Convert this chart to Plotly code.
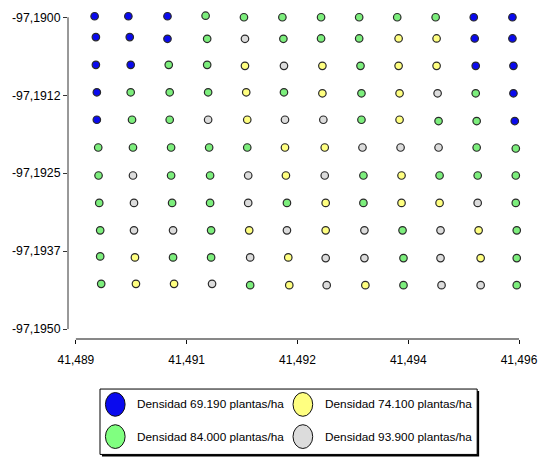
import plotly.graph_objects as go

# ---------------- data ----------------
density_names = {
    "B": "Densidad 69.190 plantas/ha",
    "Y": "Densidad 74.100 plantas/ha",
    "G": "Densidad 84.000 plantas/ha",
    "W": "Densidad 93.900 plantas/ha",
}
density_colors = {"B": "#0a0aee", "Y": "#ffff80", "G": "#7cee7c", "W": "#dcdcdc"}

x_grid = [
    [41.489296, 41.489829, 41.490447, 41.491049, 41.491655, 41.492262, 41.492873, 41.493475, 41.494076, 41.494683, 41.495285, 41.495896],
    [41.489316, 41.489851, 41.490447, 41.491074, 41.491671, 41.492278, 41.492873, 41.493475, 41.494098, 41.494698, 41.495300, 41.495896],
    [41.489316, 41.489866, 41.490467, 41.491074, 41.491671, 41.492287, 41.492894, 41.493496, 41.494098, 41.494698, 41.495316, 41.495912],
    [41.489331, 41.489866, 41.490482, 41.491089, 41.491691, 41.492287, 41.492894, 41.493511, 41.494113, 41.494714, 41.495316, 41.495912],
    [41.489331, 41.489887, 41.490482, 41.491089, 41.491707, 41.492303, 41.492909, 41.493511, 41.494113, 41.494729, 41.495331, 41.495933],
    [41.489353, 41.489902, 41.490504, 41.491105, 41.491707, 41.492303, 41.492931, 41.493527, 41.494129, 41.494729, 41.495331, 41.495949],
    [41.489358, 41.489902, 41.490504, 41.491120, 41.491722, 41.492318, 41.492931, 41.493542, 41.494144, 41.494745, 41.495347, 41.495949],
    [41.489369, 41.489918, 41.490520, 41.491120, 41.491722, 41.492334, 41.492946, 41.493542, 41.494144, 41.494745, 41.495347, 41.495949],
    [41.489384, 41.489918, 41.490535, 41.491136, 41.491738, 41.492334, 41.492946, 41.493558, 41.494160, 41.494760, 41.495362, 41.495964],
    [41.489384, 41.489933, 41.490535, 41.491136, 41.491753, 41.492355, 41.492946, 41.493558, 41.494175, 41.494760, 41.495394, 41.495964],
    [41.489400, 41.489949, 41.490551, 41.491151, 41.491753, 41.492371, 41.492962, 41.493573, 41.494175, 41.494776, 41.495394, 41.495964],
]

y_grid = [
    [-97.189984, -97.189984, -97.189984, -97.189975, -97.190000, -97.190000, -97.190000, -97.190000, -97.190000, -97.190000, -97.190000, -97.190000],
    [-97.190318, -97.190318, -97.190345, -97.190345, -97.190345, -97.190345, -97.190340, -97.190340, -97.190340, -97.190340, -97.190340, -97.190340],
    [-97.190763, -97.190763, -97.190763, -97.190763, -97.190779, -97.190779, -97.190779, -97.190779, -97.190779, -97.190779, -97.190779, -97.190779],
    [-97.191203, -97.191203, -97.191203, -97.191203, -97.191203, -97.191203, -97.191219, -97.191219, -97.191219, -97.191219, -97.191219, -97.191219],
    [-97.191643, -97.191643, -97.191643, -97.191643, -97.191643, -97.191643, -97.191643, -97.191643, -97.191643, -97.191664, -97.191664, -97.191664],
    [-97.192088, -97.192088, -97.192088, -97.192088, -97.192088, -97.192088, -97.192088, -97.192088, -97.192088, -97.192088, -97.192088, -97.192104],
    [-97.192537, -97.192537, -97.192537, -97.192537, -97.192537, -97.192537, -97.192537, -97.192537, -97.192537, -97.192537, -97.192537, -97.192537],
    [-97.192977, -97.192977, -97.192977, -97.192977, -97.192977, -97.192977, -97.192977, -97.192977, -97.192977, -97.192977, -97.192977, -97.192977],
    [-97.193416, -97.193416, -97.193416, -97.193416, -97.193416, -97.193416, -97.193416, -97.193416, -97.193416, -97.193416, -97.193416, -97.193416],
    [-97.193835, -97.193851, -97.193851, -97.193851, -97.193851, -97.193851, -97.193861, -97.193861, -97.193861, -97.193861, -97.193861, -97.193861],
    [-97.194274, -97.194274, -97.194274, -97.194274, -97.194296, -97.194296, -97.194296, -97.194296, -97.194296, -97.194296, -97.194296, -97.194296],
]

density_grid = [
    "BBBGGGGGGGBB",
    "BBBGWGGGYYBB",
    "BBGGYWYGYYBB",
    "BGGGYGYGYWGB",
    "BGGWYWWGYGGB",
    "GGGGGYYWWWGG",
    "GWGGWYWGYGGG",
    "GWGGWGYGYYWG",
    "GWWGYWYWGWYG",
    "GYGGWYWWGWYG",
    "GYYWGYWYGWWG",
]

x_tickvals = [41.489, 41.49075, 41.4925, 41.49425, 41.496]
x_ticktext = ["41,489", "41,491", "41,492", "41,494", "41,496"]
y_tickvals = [-97.19, -97.19125, -97.1925, -97.19375, -97.195]
y_ticktext = ["-97,1900", "-97,1912", "-97,1925", "-97,1937", "-97,1950"]

legend_order = ["B", "Y", "G", "W"]

# ---------------- figure ----------------
W, H = 549, 459
ML, MR, MT, MB = 68, 22, 11, 120
PW, PH = W - ML - MR, H - MT - MB
XPP = 0.007 / 450      # data units per pixel (x)
YPP = 0.005 / 314.7    # data units per pixel (y)


def px(x):
    return (x - ML) / PW


def py(y):
    return (H - MB - y) / PH


fig = go.Figure()
for key in legend_order:
    xs, ys = [], []
    for r, row in enumerate(density_grid):
        for c, k in enumerate(row):
            if k == key:
                xs.append(x_grid[r][c])
                ys.append(y_grid[r][c])
    fig.add_trace(go.Scatter(
        x=xs, y=ys, mode="markers", name=density_names[key],
        marker=dict(size=7.5, color=density_colors[key],
                    line=dict(color="#2a2a2a", width=1.2)),
        cliponaxis=False, showlegend=False,
    ))

FAM = "Liberation Sans, Arial, sans-serif"
font = dict(family=FAM, size=12, color="#000")

shapes = []
# axis lines (detached, like the reference)
shapes.append(dict(type="line", xref="paper", yref="y", x0=0, x1=0,
                   y0=y_tickvals[-1], y1=y_tickvals[0],
                   line=dict(color="#333", width=1)))
shapes.append(dict(type="line", xref="x", yref="paper", x0=x_tickvals[0],
                   x1=x_tickvals[-1], y0=0, y1=0,
                   line=dict(color="#111", width=1)))
# legend box with shadow
shapes.append(dict(type="rect", xref="paper", yref="paper",
                   x0=px(102.5), x1=px(485.5), y0=py(457.5), y1=py(391.5),
                   fillcolor="#000", line=dict(width=0)))
shapes.append(dict(type="rect", xref="paper", yref="paper",
                   x0=px(100.5), x1=px(483.5), y0=py(455.5), y1=py(389.5),
                   fillcolor="#fff", line=dict(color="#000", width=1)))

annotations = []
leg_pos = {"B": (116, 405), "Y": (306.5, 405), "G": (116, 437.5), "W": (306.5, 437.5)}
for key in legend_order:
    cx, cy = leg_pos[key]
    shapes.append(dict(type="circle", xref="paper", yref="paper",
                       x0=px(cx - 10), x1=px(cx + 10), y0=py(cy + 12), y1=py(cy - 12),
                       fillcolor=density_colors[key] if key != "G" else "#80ff80",
                       line=dict(color="#111", width=1)))
    annotations.append(dict(xref="paper", yref="paper", x=px(cx + 20), y=py(cy),
                            xanchor="left", yanchor="middle", showarrow=False,
                            text=density_names[key],
                            font=dict(family=FAM, size=11.8, color="#000")))

fig.update_layout(
    width=W, height=H,
    margin=dict(l=ML, r=MR, t=MT, b=MB),
    paper_bgcolor="white", plot_bgcolor="white",
    font=font,
    shapes=shapes, annotations=annotations,
    xaxis=dict(range=[41.489 - 8 * XPP, 41.496 + 1 * XPP],
               tickvals=x_tickvals, ticktext=x_ticktext,
               ticks="outside", ticklen=4, tickcolor="#111", tickwidth=1,
               ticklabelstandoff=6,
               showline=False, showgrid=False, zeroline=False,
               tickfont=font),
    yaxis=dict(range=[-97.19 - (339 - 14.3) * YPP, -97.19 + (14.3 - MT) * YPP],
               tickvals=y_tickvals, ticktext=y_ticktext,
               ticks="outside", ticklen=4, tickcolor="#333", tickwidth=1,
               showline=False, showgrid=False, zeroline=False,
               tickfont=dict(family=FAM, size=12.3, color="#000")),
)

fig.write_html("out.html")
